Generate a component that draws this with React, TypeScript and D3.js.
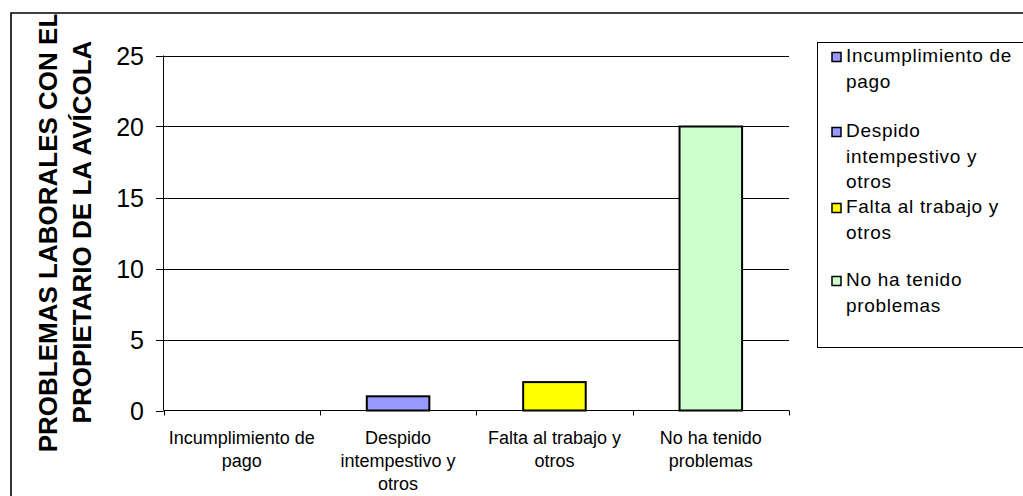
import React from "react";
import * as d3 from "d3";

const categories = [
  "Incumplimiento de pago",
  "Despido intempestivo y otros",
  "Falta al trabajo y otros",
  "No ha tenido problemas",
];
const categoryLines = [
  ["Incumplimiento de", "pago"],
  ["Despido", "intempestivo y", "otros"],
  ["Falta al trabajo y", "otros"],
  ["No ha tenido", "problemas"],
];
const values = [0, 1, 2, 20];
const colors = ["#9999FF", "#9999FF", "#FFFF00", "#CCFFCC"];
const yTicks = [0, 5, 10, 15, 20, 25];
const legendLines = [
  ["Incumplimiento de", "pago"],
  ["Despido", "intempestivo y", "otros"],
  ["Falta al trabajo y", "otros"],
  ["No ha tenido", "problemas"],
];
const titleLines = ["PROBLEMAS LABORALES CON EL", "PROPIETARIO DE LA AVÍCOLA"];

const W = 1023;
const H = 496;
const X0 = 163.5;
const X1 = 789;
const Y0 = 410.5;
const Y1 = 55.5;
const FONT = "'Liberation Sans', Arial, sans-serif";

export default function App() {
  const x = d3
    .scaleBand<string>()
    .domain(categories)
    .range([X0, X1])
    .paddingInner(0.6)
    .paddingOuter(0.3);
  const y = d3.scaleLinear().domain([0, 25]).range([Y0, Y1]);
  const step = x.step();

  return (
    <svg
      width={W}
      height={H}
      style={{ position: "absolute", left: 0, top: 0, background: "#fff" }}
      fontFamily={FONT}
    >
      <defs>
        <clipPath id="chartClip">
          <rect x={12} y={14.5} width={W} height={H} />
        </clipPath>
      </defs>
      <rect x={0} y={0} width={W} height={H} fill="#fff" />
      {/* outer border */}
      <path d={`M11,${H} L11,13 L${W},13`} fill="none" stroke="#000" strokeWidth={1.6} />

      {/* gridlines */}
      {yTicks
        .filter((t) => t > 0)
        .map((t) => (
          <line key={"g" + t} x1={X0} x2={X1} y1={Math.round(y(t)) + 0.5} y2={Math.round(y(t)) + 0.5} stroke="#000" strokeWidth={1} />
        ))}

      {/* bars */}
      {categories.map((c, i) =>
        values[i] > 0 ? (
          <rect
            key={"b" + i}
            x={x(c)}
            y={y(values[i])}
            width={x.bandwidth()}
            height={y(0) - y(values[i])}
            fill={colors[i]}
            stroke="#000"
            strokeWidth={2}
          />
        ) : null
      )}

      {/* y axis */}
      <line x1={X0} x2={X0} y1={Y1} y2={Y0} stroke="#000" strokeWidth={1} />
      {yTicks.map((t) => (
        <g key={"yt" + t}>
          <line x1={156} x2={X0} y1={Math.round(y(t)) + 0.5} y2={Math.round(y(t)) + 0.5} stroke="#000" strokeWidth={1} />
          <text x={144} y={y(t)} dy="0.36em" textAnchor="end" fontSize={25} fill="#000">
            {t}
          </text>
        </g>
      ))}

      {/* x axis */}
      <line x1={X0} x2={X1} y1={Y0} y2={Y0} stroke="#000" strokeWidth={1} />
      {d3.range(categories.length + 1).map((i) => (
        <line key={"xt" + i} x1={Math.round(X0 + i * step) + 0.5} x2={Math.round(X0 + i * step) + 0.5} y1={Y0} y2={Y0 + 5} stroke="#000" strokeWidth={1} />
      ))}
      {categories.map((c, i) => (
        <text key={"xl" + i} textAnchor="middle" fontSize={18} fill="#000">
          {categoryLines[i].map((ln, j) => (
            <tspan key={j} x={(x(c) as number) + x.bandwidth() / 2} y={444 + j * 23}>
              {ln}
            </tspan>
          ))}
        </text>
      ))}

      {/* y title */}
      <g clipPath="url(#chartClip)">
        {titleLines.map((ln, j) => (
          <text
            key={"tt" + j}
            transform={`translate(${57 + j * 34},232) rotate(-90)`}
            textAnchor="middle"
            fontSize={26}
            fontWeight="bold"
            fill="#000"
          >
            {ln}
          </text>
        ))}
      </g>

      {/* legend */}
      <rect x={817.5} y={42.5} width={W} height={305} fill="#fff" stroke="#000" strokeWidth={1} />
      {legendLines.map((lines, i) => {
        const by = [62, 137, 213, 286][i];
        return (
          <g key={"lg" + i}>
            <rect x={832} y={by - 9.5} width={9} height={9} fill={colors[i]} stroke="#000" strokeWidth={1.5} />
            <text fontSize={19} fill="#000" letterSpacing={0.7}>
              {lines.map((ln, j) => (
                <tspan key={j} x={846} y={by + j * 25.5}>
                  {ln}
                </tspan>
              ))}
            </text>
          </g>
        );
      })}
    </svg>
  );
}
